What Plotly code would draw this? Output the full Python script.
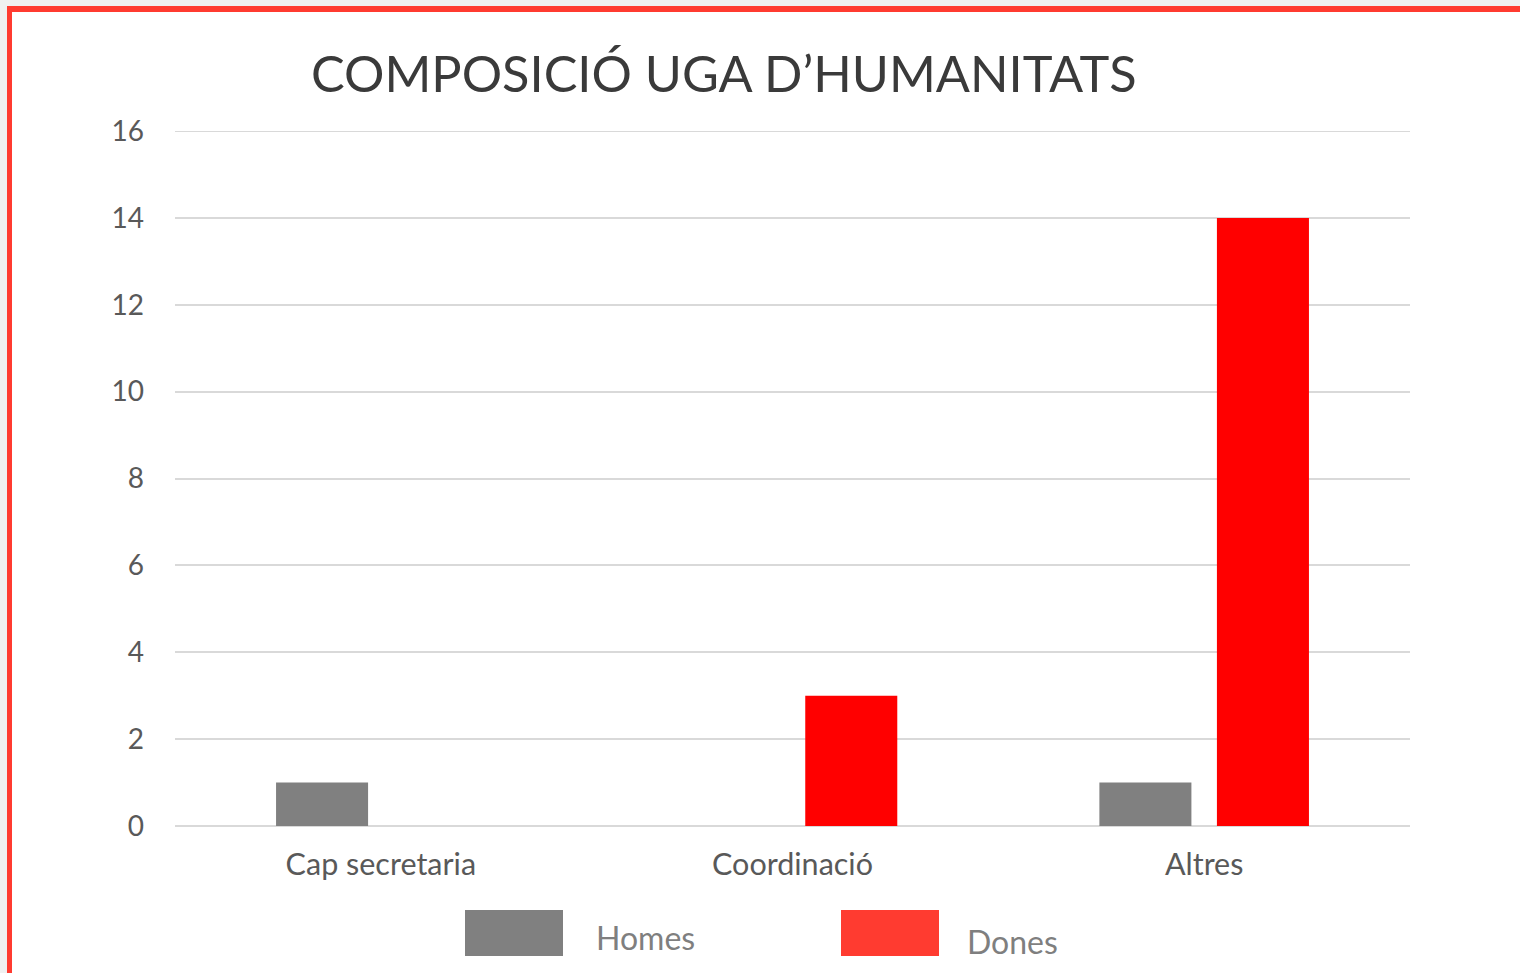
import plotly.graph_objects as go

categories = ["Cap secretaria", "Coordinació", "Altres"]
homes = [1, 0, 1]
dones = [0, 3, 14]
series_names = ["Homes", "Dones"]
title_text = "COMPOSICIÓ UGA D’HUMANITATS"
y_ticks = [0, 2, 4, 6, 8, 10, 12, 14, 16]

W, H = 1520, 973
L, R, T, B = 175, 1410, 131, 826

def px(x):
    return (x - L) / (R - L)

def py(y):
    return (B - y) / (B - T)

FONT = "Lato"
fig = go.Figure()
fig.add_trace(go.Bar(x=categories, y=homes, name=series_names[0],
                     marker=dict(color="#808080", line=dict(width=0)),
                     showlegend=False))
fig.add_trace(go.Bar(x=categories, y=dones, name=series_names[1],
                     marker=dict(color="#ff0000", line=dict(width=0)),
                     showlegend=False))

shapes = [
    # gray outer background strips
    dict(type="rect", xref="paper", yref="paper", x0=px(0), x1=px(W), y0=py(0), y1=py(6),
         fillcolor="#f0f0f0", line=dict(width=0), layer="below"),
    dict(type="rect", xref="paper", yref="paper", x0=px(0), x1=px(7), y0=py(0), y1=py(H),
         fillcolor="#f0f0f0", line=dict(width=0), layer="below"),
    # red border
    dict(type="rect", xref="paper", yref="paper", x0=px(7), x1=px(W), y0=py(6), y1=py(12),
         fillcolor="#ff3b30", line=dict(width=0), layer="above"),
    dict(type="rect", xref="paper", yref="paper", x0=px(7), x1=px(12), y0=py(6), y1=py(H),
         fillcolor="#ff3b30", line=dict(width=0), layer="above"),
    # top gridline (at range edge)
    dict(type="line", xref="paper", yref="y", x0=0, x1=1, y0=y_ticks[-1], y1=y_ticks[-1],
         line=dict(color="#d9d9d9", width=2), layer="below"),
    # legend swatches
    dict(type="rect", xref="paper", yref="paper", x0=px(465), x1=px(563), y0=py(956), y1=py(910),
         fillcolor="#808080", line=dict(width=0), layer="above"),
    dict(type="rect", xref="paper", yref="paper", x0=px(841), x1=px(939), y0=py(956), y1=py(910),
         fillcolor="#ff3b30", line=dict(width=0), layer="above"),
]

annotations = [
    dict(text=title_text, xref="paper", yref="paper", x=px(724), y=py(72),
         xanchor="center", yanchor="middle", showarrow=False,
         font=dict(family=FONT, size=50.5, color="#3a3a3a")),
    dict(text=series_names[0], xref="paper", yref="paper", x=px(594), y=py(937),
         xanchor="left", yanchor="middle", showarrow=False,
         font=dict(family=FONT, size=32, color="#7f7f7f")),
    dict(text=series_names[1], xref="paper", yref="paper", x=px(965), y=py(941),
         xanchor="left", yanchor="middle", showarrow=False,
         font=dict(family=FONT, size=32, color="#7f7f7f")),
]

fig.update_layout(
    width=W, height=H,
    margin=dict(l=L, r=W - R, t=T, b=H - B, pad=0),
    paper_bgcolor="white", plot_bgcolor="white",
    barmode="group", bargap=0.429, bargroupgap=0.217,
    shapes=shapes, annotations=annotations,
    font=dict(family=FONT, color="#595959"),
)
fig.update_xaxes(showgrid=False, showline=False, ticks="",
                 tickfont=dict(family=FONT, size=30.5, color="#595959"),
                 ticklabelstandoff=17)
fig.update_yaxes(range=[0, 16], tickvals=y_ticks, showgrid=True, gridcolor="#d9d9d9",
                 gridwidth=2, zeroline=True, zerolinecolor="#d9d9d9", zerolinewidth=2,
                 showline=False, ticks="",
                 tickfont=dict(family=FONT, size=28, color="#595959"),
                 ticklabelstandoff=30)

fig.write_html("out.html", config={"displayModeBar": False},
               post_script="document.body.style.margin='0';document.body.style.padding='0';")
